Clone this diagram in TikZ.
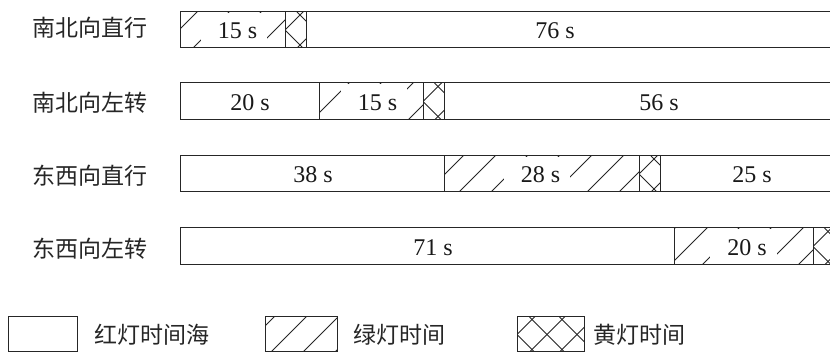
\documentclass[tikz,border=0pt]{standalone}
\usepackage{fontspec}
\setmainfont{Liberation Serif}
\newfontfamily\cjk{Noto Sans CJK SC}
\newcommand\greenhatch[5]{%
  \begin{scope}
    \clip (#1,#2) rectangle (#3,#4);
    \foreach \k in {-8,...,8} {\draw[hatchline] ({#5+32*\k-#4},#4) -- ++(44,-44);}
  \end{scope}}
\newcommand\yellowhatch[4]{%
  \begin{scope}
    \clip (#1,#2) rectangle (#3,#4);
    \pgfmathsetmacro\cc{(#2+#4)/2}
    \foreach \k in {-3,...,3} {
      \draw[hatchline] ({#1+\cc+30*\k-#4},#4) -- ++(44,-44);
      \draw[hatchline] ({#1-\cc+30*\k+#2},#2) -- ++(44,44);
    }
  \end{scope}}
\tikzset{
  seg/.style={draw=black!85, line width=1pt},
  hatchline/.style={draw=black!85, line width=0.8pt},
  num/.style={font=\fontsize{24pt}{28pt}\selectfont, inner sep=0pt, text=black!90},
  gnum/.style={num, fill=white, inner xsep=10pt, minimum height=36pt},
  rowlbl/.style={font=\cjk\fontsize{23pt}{27pt}\selectfont, inner sep=0pt, text=black!85},
}
\begin{document}
\begin{tikzpicture}[x=1pt,y=-1pt]
\useasboundingbox (0,0) rectangle (830,352);
\fill[white] (0,0) rectangle (830,352);
\clip (0,0) rectangle (830,352);

% row labels
\node[rowlbl] (l1) at (89.5,27.5) {南北向直行};
\node[rowlbl] (l2) at (89.5,102.5) {南北向左转};
\node[rowlbl] (l3) at (89.5,176) {东西向直行};
\node[rowlbl] (l4) at (89.5,249) {东西向左转};

% hatching
\greenhatch{180}{12}{285}{48}{305}
\yellowhatch{285}{12}{306}{48}
\greenhatch{319}{83}{423}{120}{528}
\yellowhatch{423}{83}{444}{120}
\greenhatch{444}{156}{639}{192}{811}
\yellowhatch{639}{156}{660}{192}
\greenhatch{674}{228}{813}{265}{1063}
\yellowhatch{813}{228}{834}{265}
% legend hatching
\greenhatch{265}{317}{337}{352}{655}
\yellowhatch{517}{317}{584}{352}

% numbers
\node[gnum] (t11) at (234,31) {\hspace*{7pt}15 s};
\node[num]  (t12) at (555,31) {76 s};
\node[num]  (t21) at (250,102.5) {20 s};
\node[gnum] (t22) at (374,102.5) {\hspace*{7pt}15 s};
\node[num]  (t23) at (659,102.5) {56 s};
\node[num]  (t31) at (313,175) {38 s};
\node[gnum] (t32) at (537,175) {\hspace*{7pt}28 s};
\node[num]  (t33) at (752,175) {25 s};
\node[num]  (t41) at (433,247.5) {71 s};
\node[gnum] (t42) at (743.5,247.5) {\hspace*{7pt}20 s};

% segment outlines
\draw[seg] (180,12) rectangle (285,48);
\draw[seg] (285,12) rectangle (306,48);
\draw[seg] (306,12) rectangle (834,48);
\draw[seg] (180,83) rectangle (319,120);
\draw[seg] (319,83) rectangle (423,120);
\draw[seg] (423,83) rectangle (444,120);
\draw[seg] (444,83) rectangle (834,120);
\draw[seg] (180,156) rectangle (444,192);
\draw[seg] (444,156) rectangle (639,192);
\draw[seg] (639,156) rectangle (660,192);
\draw[seg] (660,156) rectangle (834,192);
\draw[seg] (180,228) rectangle (674,265);
\draw[seg] (674,228) rectangle (813,265);
\draw[seg] (813,228) rectangle (834,265);

% legend
\draw[seg] (8,317) rectangle (77,352);
\draw[seg] (265,317) rectangle (337,352);
\draw[seg] (517,317) rectangle (584,352);
\node[rowlbl] (g1) at (152,335) {红灯时间海};
\node[rowlbl] (g2) at (399,335) {绿灯时间};
\node[rowlbl] (g3) at (639.5,335) {黄灯时间};
\end{tikzpicture}
\end{document}
